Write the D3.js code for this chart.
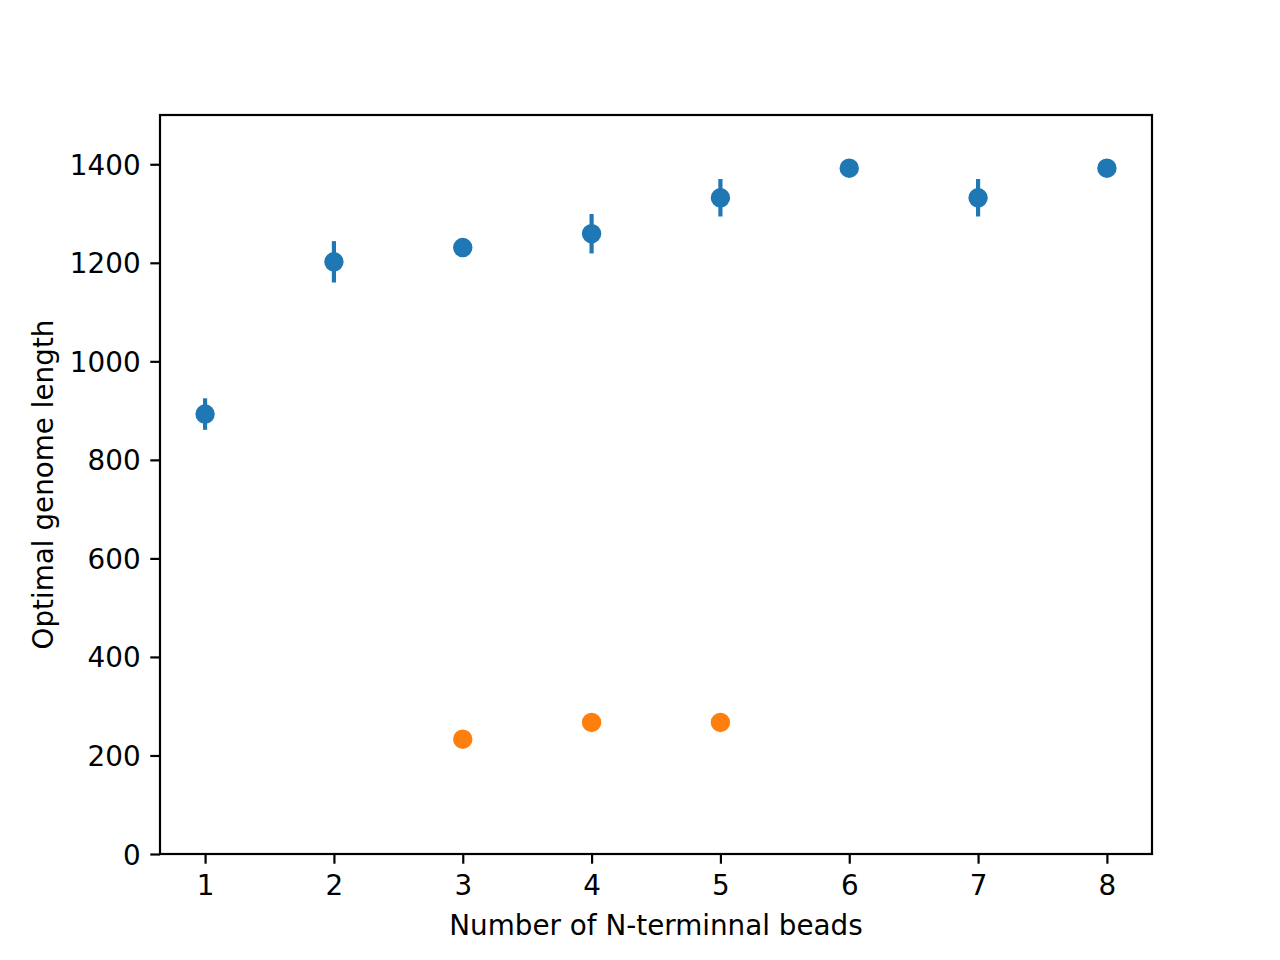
<!DOCTYPE html>
<html>
<head>
<meta charset="utf-8">
<script src="https://cdn.jsdelivr.net/npm/d3@7"></script>
<style>
  html, body { margin: 0; padding: 0; background: #fff; }
  svg { display: block; }
  text { font-family: "DejaVu Sans", sans-serif; }
</style>
</head>
<body>
<script>
// ---- data ----
const beads = [1, 2, 3, 4, 5, 6, 7, 8];
const blueValues = [893, 1202, 1231, 1259, 1332, 1392, 1332, 1392];
const blueErrors = [32, 42, 0, 40, 38, 0, 38, 0];
const orangeBeads = [3, 4, 5];
const orangeValues = [233, 267, 267];
const xTicks = [1, 2, 3, 4, 5, 6, 7, 8];
const yTicks = [0, 200, 400, 600, 800, 1000, 1200, 1400];
const xLabel = "Number of N-terminnal beads";
const yLabel = "Optimal genome length";

// ---- layout ----
const W = 1280, H = 960;
const pLeft = 160, pRight = 1152, pTop = 115, pBottom = 854;
const fs = 27.8;
const axisW = 2.2, tickLen = 9.7, pad = 9.7;

const svg = d3.select("body").append("svg")
  .attr("width", W).attr("height", H);

const x = d3.scaleLinear().domain([0.65, 8.35]).range([pLeft, pRight]);
const y = d3.scaleLinear().domain([0, 1500]).range([pBottom, pTop]);

// axes
const xAxis = d3.axisBottom(x).tickValues(xTicks).tickFormat(d3.format("d"))
  .tickSize(tickLen).tickPadding(pad);
const yAxis = d3.axisLeft(y).tickValues(yTicks).tickFormat(d3.format("d"))
  .tickSize(tickLen).tickPadding(pad);

const gx = svg.append("g").attr("transform", `translate(0,${pBottom})`).call(xAxis);
const gy = svg.append("g").attr("transform", `translate(${pLeft},0)`).call(yAxis);
[gx, gy].forEach(g => {
  g.select(".domain").remove();
  g.selectAll(".tick line").attr("stroke", "#000").attr("stroke-width", axisW);
  g.selectAll(".tick text").attr("fill", "#000")
    .style("font-family", "'DejaVu Sans', sans-serif").style("font-size", fs + "px");
});
gx.selectAll(".tick text").attr("dy", null)
  .attr("y", tickLen + pad + 0.73 * fs + 1);
gy.selectAll(".tick text").attr("dy", "0.36em");

// data: error bars, then markers
const blue = "#1f77b4", orange = "#ff7f0e";
const blueData = beads.map((b, i) => ({ x: b, y: blueValues[i], e: blueErrors[i] }));
const orangeData = orangeBeads.map((b, i) => ({ x: b, y: orangeValues[i] }));

svg.append("g").selectAll("line").data(blueData.filter(d => d.e > 0)).join("line")
  .attr("x1", d => x(d.x)).attr("x2", d => x(d.x))
  .attr("y1", d => y(d.y - d.e)).attr("y2", d => y(d.y + d.e))
  .attr("stroke", blue).attr("stroke-width", 4.17);

svg.append("g").selectAll("circle").data(blueData).join("circle")
  .attr("cx", d => x(d.x)).attr("cy", d => y(d.y)).attr("r", 8.33)
  .attr("fill", blue).attr("stroke", blue).attr("stroke-width", 2.78);

svg.append("g").selectAll("circle").data(orangeData).join("circle")
  .attr("cx", d => x(d.x)).attr("cy", d => y(d.y)).attr("r", 8.33)
  .attr("fill", orange).attr("stroke", orange).attr("stroke-width", 2.78);

// frame
svg.append("rect").attr("x", pLeft).attr("y", pTop)
  .attr("width", pRight - pLeft).attr("height", pBottom - pTop)
  .attr("fill", "none").attr("stroke", "#000").attr("stroke-width", axisW);

// labels
svg.append("text").attr("x", (pLeft + pRight) / 2).attr("y", 935)
  .attr("text-anchor", "middle").style("font-size", fs + "px").text(xLabel);
svg.append("text")
  .attr("transform", `translate(53,${(pTop + pBottom) / 2}) rotate(-90)`)
  .attr("text-anchor", "middle").style("font-size", fs + "px").text(yLabel);
</script>
</body>
</html>
